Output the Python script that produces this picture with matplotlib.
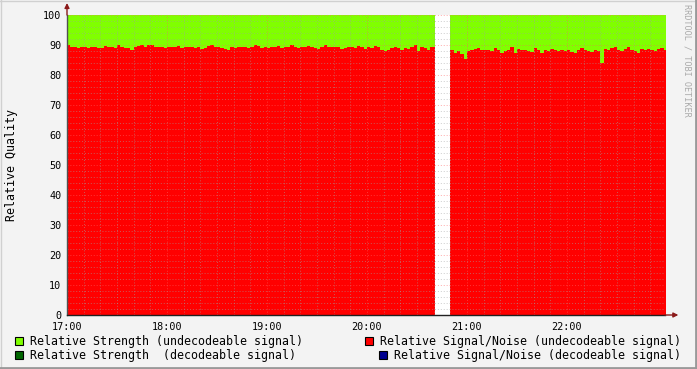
import numpy as np
import matplotlib
matplotlib.use('Agg')
from matplotlib import pyplot as plt
from matplotlib.patches import Rectangle

# signal/noise, 2-minute steps, minutes after 17:00
snr_a = [90.0, 89.5, 89.5, 89.0, 89.3, 89.3, 89.0, 89.5, 89.3, 89.0,
         89.0, 89.8, 89.5, 89.3, 89.0, 90.0, 89.5, 89.0, 89.0, 88.4,
         89.3, 89.8, 90.0, 89.5, 90.0, 90.0, 89.5, 89.3, 89.3, 89.0,
         89.3, 89.5, 89.3, 89.7, 89.0, 89.3, 89.5, 89.5, 89.0, 89.3,
         88.8, 89.0, 89.8, 90.0, 89.3, 89.5, 89.0, 88.7, 88.5, 89.3,
         89.0, 89.5, 89.3, 89.5, 89.0, 89.3, 90.0, 89.7, 89.0, 89.3,
         89.0, 89.5, 89.3, 89.7, 89.0, 89.5, 89.3, 90.0, 89.3, 89.0,
         89.5, 89.3, 89.7, 89.5, 89.0, 88.8, 89.3, 90.0, 89.3, 89.5,
         89.3, 89.5, 88.7, 89.0, 89.5, 89.3, 89.0, 89.8, 89.3, 88.6,
         89.5, 89.0, 89.6, 89.5, 88.3, 88.0, 88.5, 89.0, 89.3, 89.0,
         88.5, 89.0, 88.8, 89.5, 90.0, 88.0, 89.5, 89.0, 88.3, 89.3]
snr_b = [88.5, 87.5, 88.0, 87.0, 85.3, 88.0, 88.3, 88.7, 89.0, 88.3,
         88.5, 88.3, 88.0, 89.0, 88.3, 87.5, 88.0, 88.5, 89.5, 87.2,
         88.7, 88.3, 88.5, 88.0, 87.8, 89.0, 88.3, 87.5, 88.3, 88.0,
         88.7, 88.5, 88.0, 88.3, 88.0, 88.5, 87.7, 87.5, 88.5, 89.0,
         88.3, 88.0, 87.7, 88.5, 88.0, 84.0, 88.8, 88.5, 89.0, 89.5,
         88.5, 88.0, 88.8, 89.3, 88.5, 88.0, 87.5, 88.8, 88.3, 88.7,
         88.5, 88.0, 88.7, 89.0, 88.5]
strength = 100.0
gap_start, gap_end = 221, 230  # minutes, no data
hour_labels = ['17:00', '18:00', '19:00', '20:00', '21:00', '22:00']

t_a = np.arange(len(snr_a)) * 2.0
t_a = np.append(t_a, gap_start)
y_a = np.append(snr_a, snr_a[-1])
t_b = gap_end + np.arange(len(snr_b)) * 2.0
t_b = np.append(t_b, t_b[-1] + 2)
y_b = np.append(snr_b, snr_b[-1])

W, H = 697, 369
fig = plt.figure(figsize=(W / 100, H / 100), dpi=100, facecolor='#f3f3f3')
ax = fig.add_axes([67 / W, (H - 315) / H, 598 / W, 300 / H])
ax.set_facecolor('white')

for t, y in ((t_a, y_a), (t_b, y_b)):
    ax.fill_between(t, 0, strength, step='post', color='#80ff00', lw=0, zorder=1)
    ax.fill_between(t, 0, y, step='post', color='#ff0000', lw=0, zorder=2)

xmax = 358.8
ax.set_xlim(0, xmax)
ax.set_ylim(0, 100)

# rrdtool style grid on top
for m in np.arange(10, xmax, 10):
    major = m % 60 == 0
    ax.axvline(m, color='#ff6060' if major else '#a0a0a0', lw=0.7, alpha=0.55,
               ls=(0, (1, 2)), zorder=3)
for v in np.arange(2, 100.1, 2):
    major = v % 10 == 0
    ax.axhline(v, color='#ff6060' if major else '#a0a0a0', lw=0.7, alpha=0.55,
               ls=(0, (1, 2)), zorder=3)

mono = 'DejaVu Sans Mono'
ax.set_xticks(np.arange(0, 360, 60))
ax.set_xticklabels(hour_labels, family=mono, fontsize=7.3)
ax.set_yticks(np.arange(0, 101, 10))
ax.set_yticklabels([str(v) for v in range(0, 101, 10)], family=mono, fontsize=7.3)
ax.tick_params(axis='x', length=0, pad=5)
ax.tick_params(axis='y', length=0, pad=4)
for s in ax.spines.values():
    s.set_visible(False)

# axis lines with arrows
ax.plot([0, 0], [0, 100], color='#505050', lw=1, zorder=5, clip_on=False)
ax.plot([0, xmax], [0, 0], color='#202020', lw=1, zorder=5, clip_on=False)
ax.annotate('', xy=(0, 104), xytext=(0, 100), annotation_clip=False,
            arrowprops=dict(arrowstyle='-|>', color='#8b1a1a', lw=1,
                            mutation_scale=7, shrinkA=0, shrinkB=0), zorder=5)
ax.annotate('', xy=(xmax + 8, 0), xytext=(xmax, 0), annotation_clip=False,
            arrowprops=dict(arrowstyle='-|>', color='#8b1a1a', lw=1,
                            mutation_scale=7, shrinkA=0, shrinkB=0), zorder=5)

fig.text(12 / W, 1 - 165 / H, 'Relative Quality', rotation=90, family=mono,
         fontsize=8.4, ha='center', va='center')
fig.text(687 / W, 1 - 4 / H, 'RRDTOOL / TOBI OETIKER', rotation=270, family=mono,
         fontsize=6.1, color='#aaaaaa', ha='center', va='top')

legend = [
    (15, 341, '#80ff00', 'Relative Strength (undecodeable signal)'),
    (365, 341, '#ff0000', 'Relative Signal/Noise (undecodeable signal)'),
    (15, 355, '#006600', 'Relative Strength  (decodeable signal)'),
    (379, 355, '#000090', 'Relative Signal/Noise (decodeable signal)'),
]
for x, y, c, label in legend:
    fig.patches.append(Rectangle((x / W, 1 - (y + 4) / H), 8 / W, 8 / H,
                                 transform=fig.transFigure, facecolor=c,
                                 edgecolor='black', lw=0.8))
    fig.text((x + 15) / W, 1 - y / H, label, family=mono, fontsize=8.4,
             ha='left', va='center')

# 3d-ish frame
fig.add_artist(plt.Line2D([0, 1], [1 - 0.5 / H] * 2, color='#d0d0d0', lw=1))
fig.add_artist(plt.Line2D([0.5 / W] * 2, [0, 1], color='#d0d0d0', lw=1))
fig.add_artist(plt.Line2D([0, 1], [1.5 / H] * 2, color='#999999', lw=2))
fig.add_artist(plt.Line2D([1 - 1.5 / W] * 2, [0, 1], color='#999999', lw=2))

fig.savefig('out.png', dpi=100, facecolor=fig.get_facecolor())
